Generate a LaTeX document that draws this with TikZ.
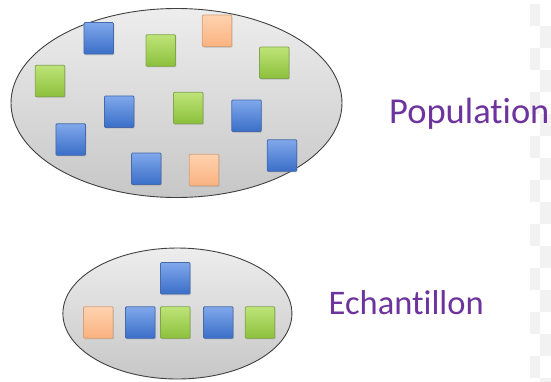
\documentclass[tikz,border=0pt]{standalone}
\usepackage{fontspec}
\setmainfont{Carlito}[RawFeature={-liga;-dlig;-clig}]
\usetikzlibrary{shapes.geometric,shadows}

\definecolor{labelpurple}{RGB}{110,52,158}
\definecolor{bluetop}{RGB}{128,168,235}
\definecolor{bluebot}{RGB}{58,110,200}
\definecolor{blueedge}{RGB}{70,105,170}
\definecolor{greentop}{RGB}{190,228,120}
\definecolor{greenbot}{RGB}{140,192,60}
\definecolor{greenedge}{RGB}{130,165,75}
\definecolor{orangetop}{RGB}{255,210,175}
\definecolor{orangebot}{RGB}{250,178,128}
\definecolor{orangeedge}{RGB}{215,160,120}
\definecolor{checkgray}{RGB}{242,242,242}

\tikzset{
  set/.style={ellipse, draw=black!75, line width=0.9pt, inner sep=0pt,
    top color=black!7, bottom color=black!22},
  tile/.style={rectangle, inner sep=0pt, minimum width=29.5pt, minimum height=31.5pt,
    rounded corners=1pt, line width=0.8pt,
    drop shadow={opacity=0.25, shadow xshift=0.8pt, shadow yshift=-1.2pt}},
  bluetile/.style={tile, draw=blueedge, top color=bluetop, bottom color=bluebot},
  greentile/.style={tile, draw=greenedge, top color=greentop, bottom color=greenbot},
  orangetile/.style={tile, draw=orangeedge, top color=orangetop, bottom color=orangebot},
  setlabel/.style={anchor=base west, inner sep=0pt, text=labelpurple},
}

\begin{document}
\begin{tikzpicture}[x=1pt, y=-1pt]
  \useasboundingbox (0,0) rectangle (551,381);
  \fill[white] (0,0) rectangle (551,381);

  % light checker strip along the right edge
  \foreach \k in {0,...,8} {
    \fill[checkgray] (530,{4+44*\k}) rectangle (540,{26+44*\k});
    \fill[checkgray] (540,{26+44*\k}) rectangle (551,{48+44*\k});
  }

  % the population
  \node[set, minimum width=331pt, minimum height=189pt] (pop) at (176.5,103) {};
  \node[bluetile]   (p1)  at (98.7,38.3)  {};
  \node[greentile]  (p2)  at (160.8,50.5) {};
  \node[orangetile] (p3)  at (217,30.8)   {};
  \node[greentile]  (p4)  at (274.3,62.8) {};
  \node[greentile]  (p5)  at (50,81)      {};
  \node[bluetile]   (p6)  at (119.2,111.7){};
  \node[greentile]  (p7)  at (188.3,108)  {};
  \node[bluetile]   (p8)  at (246.5,115.8){};
  \node[bluetile]   (p9)  at (70.7,139.5) {};
  \node[bluetile]   (p10) at (146.3,168.8){};
  \node[orangetile] (p11) at (204,170)    {};
  \node[bluetile]   (p12) at (282,155.5)  {};

  % the sample
  \node[set, minimum width=229pt, minimum height=131pt] (ech) at (177.4,313.5) {};
  \node[bluetile]   (s1) at (175.3,278.3) {};
  \node[orangetile] (s2) at (98.2,322.5)  {};
  \node[bluetile]   (s3) at (140.3,322.5) {};
  \node[greentile]  (s4) at (175.3,322.5) {};
  \node[bluetile]   (s5) at (218.3,322.5) {};
  \node[greentile]  (s6) at (260,322.5)   {};

  % labels
  \node[setlabel, font=\fontsize{36.5}{40}\selectfont] (lpop) at (389,123.5) {Population};
  \node[setlabel, font=\fontsize{34.5}{38}\selectfont] (lech) at (328.5,314) {Echantillon};
\end{tikzpicture}
\end{document}
